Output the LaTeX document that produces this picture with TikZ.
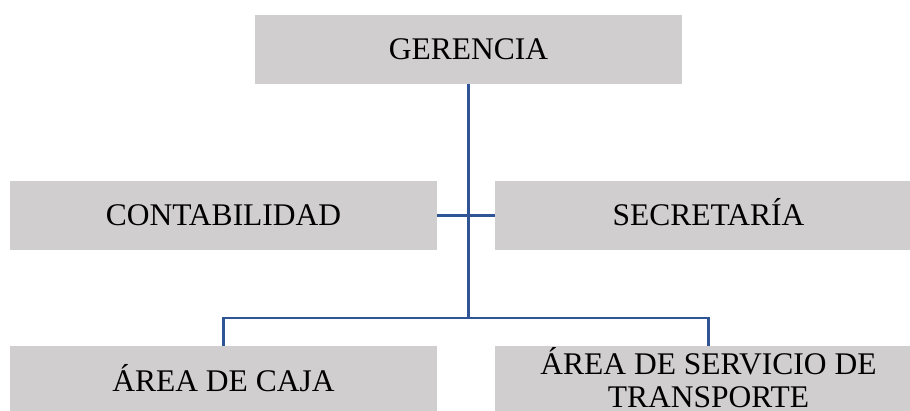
\documentclass[tikz,border=0pt]{standalone}
\usepackage{fontspec}
\setmainfont{Liberation Serif}
\definecolor{boxgray}{HTML}{D0CECE}
\definecolor{linkblue}{HTML}{2F5597}
\begin{document}
\begin{tikzpicture}[x=1pt,y=1pt,
  orgbox/.style={fill=boxgray, draw=none, minimum width=427pt, minimum height=69pt,
    inner sep=0pt, text height=21pt, text depth=0pt, align=center,
    font=\fontsize{31.5}{33}\selectfont},
  link/.style={draw=linkblue, line width=2.2pt}]
\useasboundingbox (0,0) rectangle (910,410);
\clip (0,0) rectangle (910,410);
\node[orgbox] (ger) at (468.5,360.5) {GERENCIA};
\node[orgbox] (con) at (223.5,194.5) {CONTABILIDAD};
\node[orgbox] (sec) at (708.5,194.5) {SECRETARÍA};
\node[orgbox] (caja) at (223.5,29.5) {ÁREA DE CAJA};
\node[orgbox, text height=54pt] (tra) at (708.5,29.5) {ÁREA DE SERVICIO DE\\TRANSPORTE};
\coordinate (j) at (468.5,92);
\draw[link] (ger.south) -- (j);
\draw[link] (con.east) -- (sec.west);
\draw[link] (caja.north) |- (j) -| (tra.north);
\end{tikzpicture}
\end{document}
